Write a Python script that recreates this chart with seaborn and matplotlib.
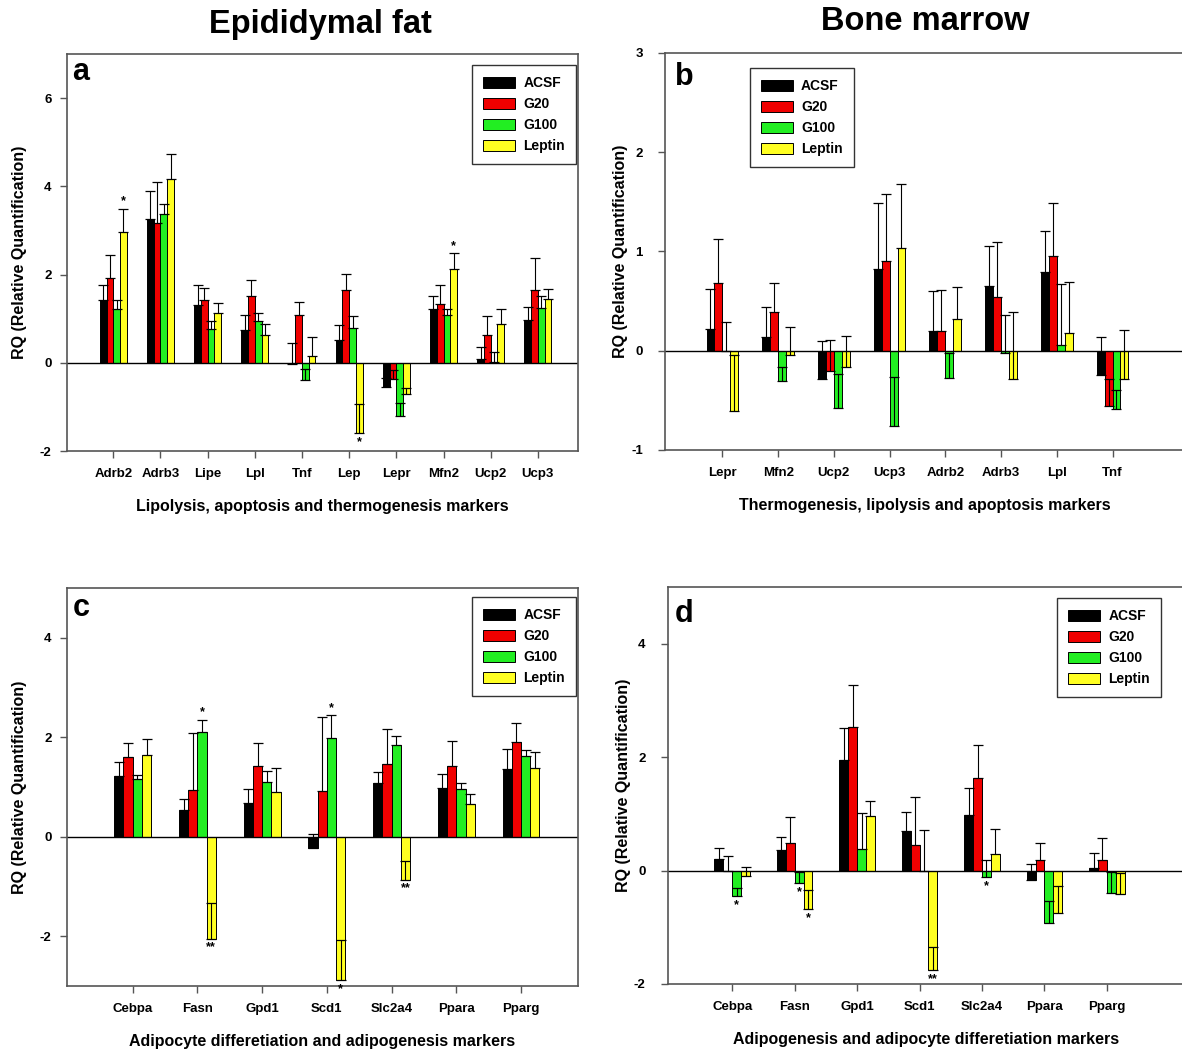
#!/usr/bin/env python3
import matplotlib
matplotlib.use('Agg')
import matplotlib.pyplot as plt
import seaborn as sns
import numpy as np
import pandas as pd

groups = ['ACSF', 'G20', 'G100', 'Leptin']
colors = ['#000000', '#f00000', '#22ee22', '#ffff22']

# panel a - epididymal fat, lipolysis/apoptosis/thermogenesis
a_genes = ['Adrb2', 'Adrb3', 'Lipe', 'Lpl', 'Tnf', 'Lep', 'Lepr', 'Mfn2', 'Ucp2', 'Ucp3']
a_acsf = [1.43, 3.25, 1.32, 0.74, -0.02, 0.51, -0.54, 1.22, 0.09, 0.97]
a_g20 = [1.92, 3.18, 1.42, 1.52, 1.09, 1.66, -0.36, 1.34, 0.63, 1.66]
a_g100 = [1.22, 3.38, 0.77, 0.94, -0.39, 0.78, -1.21, 1.09, 0.01, 1.24]
a_lep = [2.96, 4.17, 1.12, 0.63, 0.15, -1.60, -0.70, 2.13, 0.89, 1.45]
a_acsf_se = [0.34, 0.64, 0.45, 0.35, 0.46, 0.34, 0.20, 0.29, 0.26, 0.30]
a_g20_se = [0.53, 0.92, 0.28, 0.35, 0.28, 0.36, 0.19, 0.43, 0.43, 0.72]
a_g100_se = [0.21, 0.23, 0.17, 0.19, 0.25, 0.28, 0.30, 0.12, 0.23, 0.27]
a_lep_se = [0.53, 0.57, 0.24, 0.26, 0.44, 0.66, 0.13, 0.35, 0.33, 0.23]
a_sig = [('Adrb2', 'Leptin', '*'), ('Lep', 'Leptin', '*'), ('Mfn2', 'Leptin', '*')]

# panel b - bone marrow, thermogenesis/lipolysis/apoptosis
b_genes = ['Lepr', 'Mfn2', 'Ucp2', 'Ucp3', 'Adrb2', 'Adrb3', 'Lpl', 'Tnf']
b_acsf = [0.22, 0.14, -0.29, 0.82, 0.20, 0.65, 0.79, -0.24]
b_g20 = [0.68, 0.39, -0.20, 0.90, 0.20, 0.54, 0.95, -0.56]
b_g100 = [0.0, -0.31, -0.58, -0.76, -0.28, -0.02, 0.06, -0.59]
b_lep = [-0.61, -0.04, -0.16, 1.03, 0.32, -0.29, 0.18, -0.29]
b_acsf_se = [0.40, 0.30, 0.39, 0.67, 0.40, 0.40, 0.42, 0.38]
b_g20_se = [0.45, 0.29, 0.31, 0.68, 0.41, 0.56, 0.54, 0.27]
b_g100_se = [0.29, 0.15, 0.35, 0.50, 0.26, 0.38, 0.61, 0.19]
b_lep_se = [0.57, 0.28, 0.31, 0.65, 0.32, 0.68, 0.51, 0.50]
b_sig = []

# panel c - epididymal fat, adipogenesis
c_genes = ['Cebpa', 'Fasn', 'Gpd1', 'Scd1', 'Slc2a4', 'Ppara', 'Pparg']
c_acsf = [1.23, 0.53, 0.67, -0.23, 1.07, 0.97, 1.37]
c_g20 = [1.60, 0.94, 1.42, 0.92, 1.47, 1.42, 1.91]
c_g100 = [1.16, 2.11, 1.10, 1.99, 1.85, 0.96, 1.62]
c_lep = [1.64, -2.05, 0.90, -2.88, -0.86, 0.65, 1.39]
c_acsf_se = [0.27, 0.22, 0.28, 0.29, 0.24, 0.29, 0.39]
c_g20_se = [0.29, 1.15, 0.47, 1.48, 0.70, 0.51, 0.37]
c_g100_se = [0.08, 0.24, 0.23, 0.45, 0.18, 0.12, 0.12]
c_lep_se = [0.32, 0.72, 0.49, 0.80, 0.38, 0.20, 0.32]
c_sig = [('Fasn', 'G100', '*'), ('Fasn', 'Leptin', '**'), ('Scd1', 'G100', '*'),
         ('Scd1', 'Leptin', '*'), ('Slc2a4', 'Leptin', '**')]

# panel d - bone marrow, adipogenesis
d_genes = ['Cebpa', 'Fasn', 'Gpd1', 'Scd1', 'Slc2a4', 'Ppara', 'Pparg']
d_acsf = [0.20, 0.36, 1.95, 0.69, 0.98, -0.16, 0.05]
d_g20 = [0.0, 0.49, 2.54, 0.45, 1.64, 0.19, 0.19]
d_g100 = [-0.45, -0.22, 0.38, -0.01, -0.12, -0.92, -0.39]
d_lep = [-0.09, -0.68, 0.96, -1.76, 0.29, -0.74, -0.41]
d_acsf_se = [0.19, 0.23, 0.57, 0.35, 0.47, 0.28, 0.26]
d_g20_se = [0.26, 0.45, 0.73, 0.84, 0.57, 0.29, 0.38]
d_g100_se = [0.15, 0.19, 0.64, 0.73, 0.30, 0.38, 0.37]
d_lep_se = [0.15, 0.34, 0.26, 0.42, 0.45, 0.47, 0.37]
d_sig = [('Cebpa', 'G100', '*'), ('Fasn', 'G100', '*'), ('Fasn', 'Leptin', '*'),
         ('Scd1', 'Leptin', '**'), ('Slc2a4', 'G100', '*')]

sns.set_style('ticks')
plt.rcParams['font.family'] = ['Liberation Sans', 'DejaVu Sans']
plt.rcParams['font.weight'] = 'bold'
plt.rcParams['axes.labelweight'] = 'bold'
plt.rcParams['axes.unicode_minus'] = False
plt.rcParams['text.color'] = 'black'
plt.rcParams['axes.labelcolor'] = 'black'
plt.rcParams['xtick.labelcolor'] = 'black'
plt.rcParams['ytick.labelcolor'] = 'black'


def draw_panel(ax, genes, vals, errs, sig, ylim, xlim, yticks, letter, letter_xy,
               xlabel, leg_loc, leg_anchor, tick_pad, ylabel_pad):
    df = pd.DataFrame({
        'gene': np.tile(genes, len(groups)),
        'group': np.repeat(groups, len(genes)),
        'rq': np.concatenate(vals),
    })
    sns.barplot(data=df, x='gene', y='rq', hue='group', order=genes, hue_order=groups,
                palette=colors, saturation=1, width=0.57, edgecolor='black',
                linewidth=0.7, errorbar=None, ax=ax)

    # one-sided (+SE) error bars, like the original figure
    centers = {}
    for grp, cont, v, e in zip(groups, ax.containers, vals, errs):
        xs = [b.get_x() + b.get_width() / 2 for b in cont]
        for g, x in zip(genes, xs):
            centers[(g, grp)] = x
        ax.errorbar(xs, v, yerr=[np.zeros(len(v)), e], fmt='none', ecolor='black',
                    elinewidth=0.8, capsize=3.5, capthick=0.9, zorder=3)

    for g, grp, mark in sig:
        i = genes.index(g)
        j = groups.index(grp)
        v = vals[j][i]
        if v >= 0:
            ax.annotate(mark, (centers[(g, grp)], v + errs[j][i]), xytext=(0, 1),
                        textcoords='offset points', ha='center', va='bottom', fontsize=9)
        else:
            ax.annotate(mark, (centers[(g, grp)], v), xytext=(0, -2),
                        textcoords='offset points', ha='center', va='top', fontsize=9)

    ax.axhline(0, color='black', linewidth=1, zorder=2)
    ax.set_ylim(*ylim)
    ax.set_xlim(*xlim)
    ax.set_yticks(yticks)
    ax.set_xlabel(xlabel, fontsize=11.5, labelpad=14)
    ax.set_ylabel('RQ (Relative Quantification)', fontsize=11.5, labelpad=ylabel_pad)
    ax.tick_params(axis='both', direction='out', length=5, width=1, labelsize=9.5,
                   color='#555555')
    ax.tick_params(axis='y', pad=tick_pad)
    ax.tick_params(axis='x', pad=7)
    for s in ax.spines.values():
        s.set_visible(True)
        s.set_color('#555555')
        s.set_linewidth(1.2)

    ax.text(letter_xy[0], letter_xy[1], letter, transform=ax.transAxes,
            fontsize=22, fontweight='bold', va='baseline', ha='left')

    sns.move_legend(ax, leg_loc, bbox_to_anchor=leg_anchor, title=None, frameon=True,
                    fancybox=False, edgecolor='#333333', fontsize=10,
                    handlelength=2.3, handleheight=0.85, labelspacing=0.5,
                    handletextpad=0.6, borderpad=0.8, borderaxespad=0, framealpha=1)
    ax.get_legend().get_frame().set_linewidth(1)


fig = plt.figure(figsize=(11.82, 10.55), dpi=100)
ax_a = fig.add_axes([0.0567, 0.5725, 0.4323, 0.3763])
ax_b = fig.add_axes([0.5626, 0.5735, 0.4399, 0.3763])
ax_c = fig.add_axes([0.0567, 0.0654, 0.4323, 0.3773])
ax_d = fig.add_axes([0.5651, 0.0673, 0.4374, 0.3763])

draw_panel(ax_a, a_genes, [a_acsf, a_g20, a_g100, a_lep],
           [a_acsf_se, a_g20_se, a_g100_se, a_lep_se], a_sig,
           (-2, 7), (-0.98, 9.85), [-2, 0, 2, 4, 6], 'a', (0.01, 0.935),
           'Lipolysis, apoptosis and thermogenesis markers',
           'upper right', (0.996, 0.972), 6, 9)
draw_panel(ax_b, b_genes, [b_acsf, b_g20, b_g100, b_lep],
           [b_acsf_se, b_g20_se, b_g100_se, b_lep_se], b_sig,
           (-1, 3), (-1.03, 8.3), [-1, 0, 1, 2, 3], 'b', (0.019, 0.919),
           'Thermogenesis, lipolysis and apoptosis markers',
           'upper left', (0.163, 0.962), 11, 2)
draw_panel(ax_c, c_genes, [c_acsf, c_g20, c_g100, c_lep],
           [c_acsf_se, c_g20_se, c_g100_se, c_lep_se], c_sig,
           (-3, 5), (-1.015, 6.88), [-2, 0, 2, 4], 'c', (0.012, 0.93),
           'Adipocyte differetiation and adipogenesis markers',
           'upper right', (0.996, 0.977), 6, 9)
draw_panel(ax_d, d_genes, [d_acsf, d_g20, d_g100, d_lep],
           [d_acsf_se, d_g20_se, d_g100_se, d_lep_se], d_sig,
           (-2, 5), (-1.03, 7.25), [-2, 0, 2, 4], 'd', (0.0135, 0.912),
           'Adipogenesis and adipocyte differetiation markers',
           'upper right', (0.954, 0.972), 11, 2)

fig.text(320 / 1182, 1 - 25 / 1055, 'Epididymal fat', ha='center', va='center',
         fontsize=23.5, fontweight='bold', color='black')
fig.text(925 / 1182, 1 - 22 / 1055, 'Bone marrow', ha='center', va='center',
         fontsize=23.5, fontweight='bold', color='black')

fig.savefig('out.png', dpi=100)
plt.close(fig)
